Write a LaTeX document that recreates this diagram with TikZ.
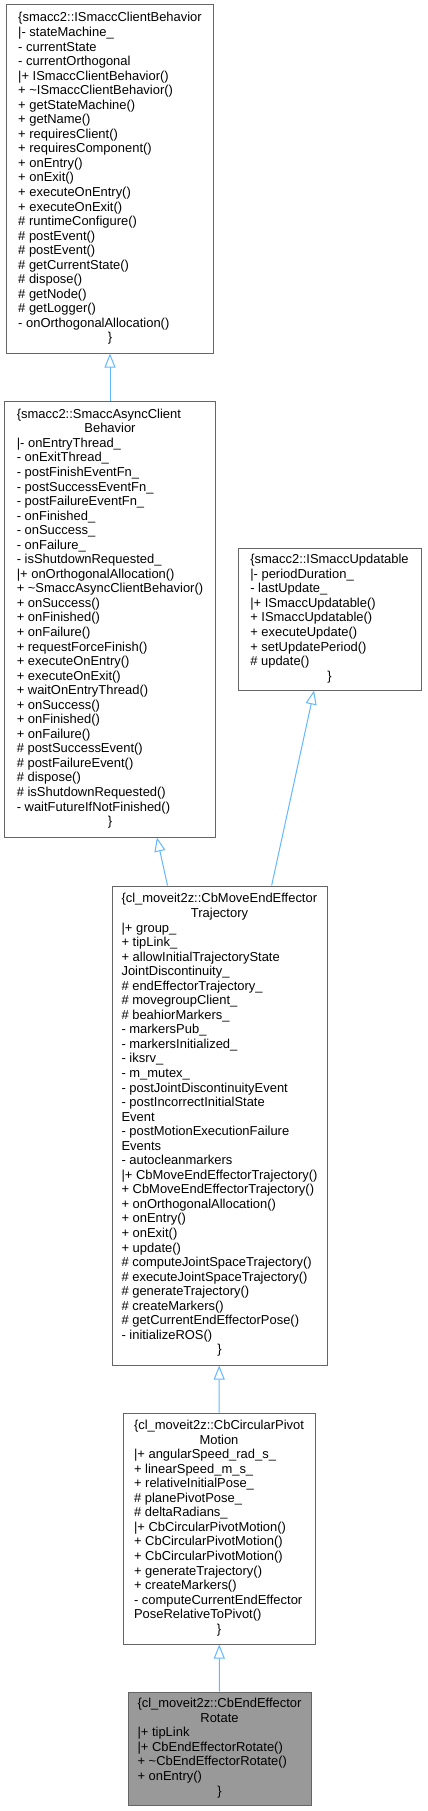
\documentclass[tikz,border=0pt]{standalone}
\usepackage{fontspec}
\setmainfont{Liberation Sans}
\usepackage{xcolor}
\usepackage{tikz}
\usetikzlibrary{arrows.meta,positioning}
\definecolor{boxline}{RGB}{102, 102, 102}
\definecolor{boxfill}{RGB}{153, 153, 153}
\definecolor{inhline}{RGB}{99, 184, 255}
\newcommand{\ctrline}[1]{\multicolumn{1}{@{}c@{}}{#1}}
\newcommand{\us}{\_}
\tikzset{
  cls/.style={draw=boxline, line width=1bp, fill=white, inner sep=0pt,
    font=\fontsize{13}{14.6}\selectfont},
  clsfill/.style={cls, fill=boxfill},
  inh/.style={draw=inhline, line width=1bp,
    -{Triangle[open, length=14bp, width=11bp]}}
}

\begin{document}
\begin{tikzpicture}[x=1bp, y=-1bp]
    \useasboundingbox[fill=white] (0,0) rectangle (427,1811);
    % base classes
    \node[cls, minimum width=206bp, minimum height=348bp] (iface) at (110,179) {%
      \begin{tabular}{@{}l@{}}
      \{smacc2::ISmaccClientBehavior\\
      |- stateMachine\us\\
      - currentState\\
      - currentOrthogonal\\
      |+ ISmaccClientBehavior()\\
      + \textasciitilde ISmaccClientBehavior()\\
      + getStateMachine()\\
      + getName()\\
      + requiresClient()\\
      + requiresComponent()\\
      + onEntry()\\
      + onExit()\\
      + executeOnEntry()\\
      + executeOnExit()\\
      \# runtimeConfigure()\\
      \# postEvent()\\
      \# postEvent()\\
      \# getCurrentState()\\
      \# dispose()\\
      \# getNode()\\
      \# getLogger()\\
      - onOrthogonalAllocation()\\
      \ctrline{\}}
      \end{tabular}};
    \node[cls, minimum width=210bp, minimum height=436bp] (async) at (110,619) {%
      \begin{tabular}{@{}l@{}}
      \{smacc2::SmaccAsyncClient\\
      \ctrline{Behavior}\\
      |- onEntryThread\us\\
      - onExitThread\us\\
      - postFinishEventFn\us\\
      - postSuccessEventFn\us\\
      - postFailureEventFn\us\\
      - onFinished\us\\
      - onSuccess\us\\
      - onFailure\us\\
      - isShutdownRequested\us\\
      |+ onOrthogonalAllocation()\\
      + \textasciitilde SmaccAsyncClientBehavior()\\
      + onSuccess()\\
      + onFinished()\\
      + onFailure()\\
      + requestForceFinish()\\
      + executeOnEntry()\\
      + executeOnExit()\\
      + waitOnEntryThread()\\
      + onSuccess()\\
      + onFinished()\\
      + onFailure()\\
      \# postSuccessEvent()\\
      \# postFailureEvent()\\
      \# dispose()\\
      \# isShutdownRequested()\\
      - waitFutureIfNotFinished()\\
      \ctrline{\}}
      \end{tabular}};
    \node[cls, minimum width=183bp, minimum height=142bp] (upd) at (329.5,619) {%
      \begin{tabular}{@{}l@{}}
      \{smacc2::ISmaccUpdatable\\
      |- periodDuration\us\\
      - lastUpdate\us\\
      |+ ISmaccUpdatable()\\
      + ISmaccUpdatable()\\
      + executeUpdate()\\
      + setUpdatePeriod()\\
      \# update()\\
      \ctrline{\}}
      \end{tabular}};
    % derived classes
    \node[cls, minimum width=215bp, minimum height=479bp] (mee) at (219.5,1125.5) {%
      \begin{tabular}{@{}l@{}}
      \{cl\us moveit2z::CbMoveEndEffector\\
      \ctrline{Trajectory}\\
      |+ group\us\\
      + tipLink\us\\
      + allowInitialTrajectoryState\\
      JointDiscontinuity\us\\
      \# endEffectorTrajectory\us\\
      \# movegroupClient\us\\
      \# beahiorMarkers\us\\
      - markersPub\us\\
      - markersInitialized\us\\
      - iksrv\us\\
      - m\us mutex\us\\
      - postJointDiscontinuityEvent\\
      - postIncorrectInitialState\\
      Event\\
      - postMotionExecutionFailure\\
      Events\\
      - autocleanmarkers\\
      |+ CbMoveEndEffectorTrajectory()\\
      + CbMoveEndEffectorTrajectory()\\
      + onOrthogonalAllocation()\\
      + onEntry()\\
      + onExit()\\
      + update()\\
      \# computeJointSpaceTrajectory()\\
      \# executeJointSpaceTrajectory()\\
      \# generateTrajectory()\\
      \# createMarkers()\\
      \# getCurrentEndEffectorPose()\\
      - initializeROS()\\
      \ctrline{\}}
      \end{tabular}};
    \node[cls, minimum width=192bp, minimum height=231bp] (piv) at (219,1528.5) {%
      \begin{tabular}{@{}l@{}}
      \{cl\us moveit2z::CbCircularPivot\\
      \ctrline{Motion}\\
      |+ angularSpeed\us rad\us s\us\\
      + linearSpeed\us m\us s\us\\
      + relativeInitialPose\us\\
      \# planePivotPose\us\\
      \# deltaRadians\us\\
      |+ CbCircularPivotMotion()\\
      + CbCircularPivotMotion()\\
      + CbCircularPivotMotion()\\
      + generateTrajectory()\\
      + createMarkers()\\
      - computeCurrentEndEffector\\
      PoseRelativeToPivot()\\
      \ctrline{\}}
      \end{tabular}};
    \node[clsfill, minimum width=183bp, minimum height=113bp] (rot) at (219.5,1748.5) {%
      \begin{tabular}{@{}l@{}}
      \{cl\us moveit2z::CbEndEffector\\
      \ctrline{Rotate}\\
      |+ tipLink\\
      |+ CbEndEffectorRotate()\\
      + \textasciitilde CbEndEffectorRotate()\\
      + onEntry()\\
      \ctrline{\}}
      \end{tabular}};
    % inheritance
    \draw[inh] (async) -- (iface);
    \draw[inh] (mee) -- (async);
    \draw[inh] (mee) -- (upd);
    \draw[inh] (piv) -- (mee);
    \draw[inh] (rot) -- (piv);
\end{tikzpicture}
\end{document}
